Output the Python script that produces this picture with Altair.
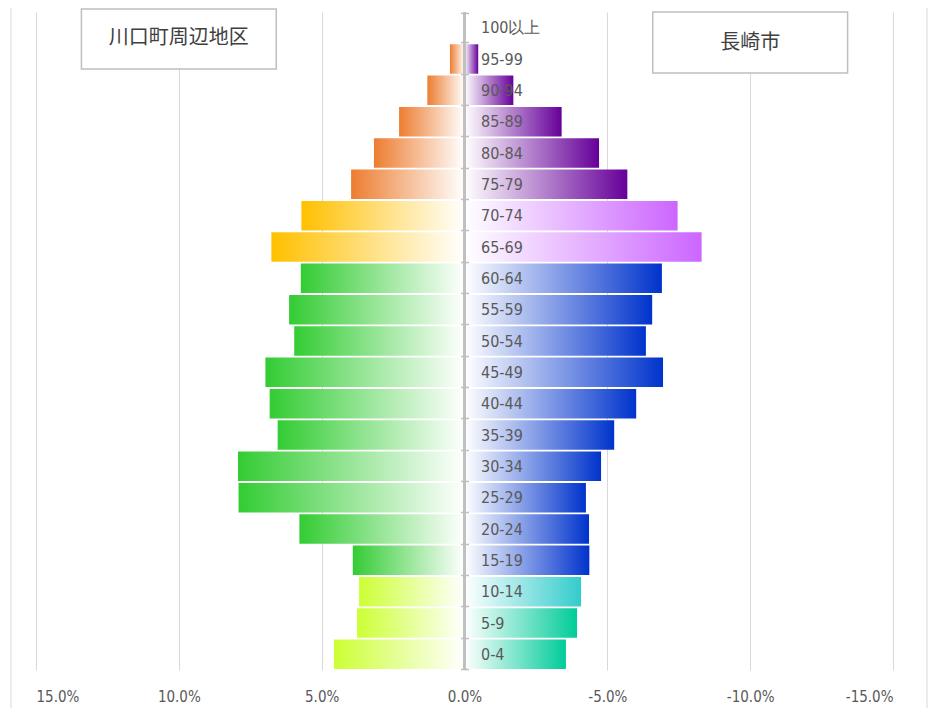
import altair as alt
import pandas as pd

# ---- data ----
ages = ["100以上", "95-99", "90-94", "85-89", "80-84", "75-79", "70-74", "65-69",
        "60-64", "55-59", "50-54", "45-49", "40-44", "35-39", "30-34", "25-29",
        "20-24", "15-19", "10-14", "5-9", "0-4"]
kawaguchi = [0.0, 0.51, 1.30, 2.29, 3.17, 3.97, 5.71, 6.76, 5.73, 6.14, 5.96,
             6.97, 6.82, 6.54, 7.93, 7.91, 5.78, 3.91, 3.69, 3.76, 4.57]
nagasaki = [0.0, 0.48, 1.71, 3.40, 4.71, 5.70, 7.46, 8.30, 6.91, 6.57, 6.35,
            6.95, 6.01, 5.24, 4.78, 4.25, 4.36, 4.37, 4.08, 3.94, 3.55]
left_groups = ["orange"] * 6 + ["gold"] * 2 + ["green"] * 10 + ["lime"] * 3
right_groups = ["purple"] * 6 + ["violet"] * 2 + ["blue"] * 10 + ["cyan"] + ["teal"] * 2
left_colors = {"orange": "#ED7D31", "gold": "#FFC000", "green": "#33CC33", "lime": "#CCFF33"}
right_colors = {"purple": "#660099", "violet": "#CC66FF", "blue": "#0033CC",
                "cyan": "#33CCCC", "teal": "#00CC99"}
x_ticks = [15, 10, 5, 0, -5, -10, -15]
titles = ["川口町周辺地区", "長崎市"]
title_centers = [10, -10]

rows = []
for i, a in enumerate(ages):
    rows.append({"age": a, "side": "L", "value": kawaguchi[i], "group": "L_" + left_groups[i]})
    rows.append({"age": a, "side": "R", "value": -nagasaki[i], "group": "R_" + right_groups[i]})
df = pd.DataFrame(rows)

W, H = 857, 658
lab_font = "'Liberation Sans Narrow', 'DejaVu Sans Condensed', 'Liberation Sans', sans-serif"

xscale = alt.Scale(domain=[-15, 15], reverse=True, nice=False, zero=False)
yscale = alt.Scale(domain=ages, paddingInner=0.06, paddingOuter=0.03)

x_enc = alt.X("value:Q", scale=xscale,
              axis=alt.Axis(values=x_ticks,
                            labelExpr="(datum.value < 0 ? '-' : '') + format(abs(datum.value), '.1f') + '%'",
                            grid=True, gridColor="#d9d9d9", gridWidth=1, ticks=False,
                            domain=False, labelPadding=19, labelFontSize=15,
                            labelColor="#595959", labelFont=lab_font, title=None))
y_enc = alt.Y("age:N", sort=ages, scale=yscale,
              axis=alt.Axis(orient="right", offset=-(W / 2 + 4), domain=False, ticks=True,
                            tickBand="extent", tickSize=8, tickColor="#bfbfbf", tickWidth=1.5,
                            labelPadding=12, labelFont=lab_font, labelFontSize=16,
                            labelColor="#595959", labelAlign="left", title=None,
                            zindex=1, grid=False))

base = alt.Chart(df)


def grad(stops):
    return alt.LinearGradient(gradient="linear", x1=0, y1=0, x2=1, y2=0,
                              stops=[alt.GradientStop(offset=o, color=c) for o, c in stops])


layers = []
for g, c in left_colors.items():
    layers.append(base.transform_filter(alt.datum.group == "L_" + g)
                  .mark_bar(color=grad([(0, c), (1, "#ffffff")]))
                  .encode(x=x_enc, x2=alt.datum(0), y=y_enc))
for g, c in right_colors.items():
    layers.append(base.transform_filter(alt.datum.group == "R_" + g)
                  .mark_bar(color=grad([(0, "#ffffff"), (1, c)]))
                  .encode(x=x_enc, x2=alt.datum(0), y=y_enc))

center = alt.Chart(df).mark_rule(color="#bfbfbf", strokeWidth=1.5).encode(x=alt.datum(0))

# outer chart-area border lines
edges = alt.Chart(pd.DataFrame({"p": [-25, W + 34]})).mark_rule(
    color="#d9d9d9", strokeWidth=1).encode(
    x=alt.X("p:Q", scale=None), y=alt.value(-20), y2=alt.value(H + 60))

tdf = pd.DataFrame({"title": titles, "c": title_centers,
                    "x0": [t + 3.41 for t in title_centers],
                    "x1": [t - 3.41 for t in title_centers],
                    "ty": [26, 31], "by0": [-3, 0], "by1": [57, 61]})
boxes = alt.Chart(tdf).mark_rect(fill="white", stroke="#bfbfbf", strokeWidth=1.5).encode(
    x=alt.X("x0:Q", scale=xscale), x2="x1:Q",
    y=alt.Y("by0:Q", scale=None), y2="by1:Q")
btext = alt.Chart(tdf).mark_text(font="Noto Sans CJK JP", fontSize=20, color="#404040",
                                  baseline="middle").encode(
    x=alt.X("c:Q", scale=xscale), y=alt.Y("ty:Q", scale=None), text="title:N")

chart = alt.layer(*layers, center, edges, boxes, btext).properties(
    width=W, height=H,
    autosize=alt.AutoSizeParams(type="none"),
    padding={"left": 28, "top": 4, "right": 36, "bottom": 38}
).configure_view(stroke=None)

chart.save("out.html", embed_options={"renderer": "svg", "actions": False})
